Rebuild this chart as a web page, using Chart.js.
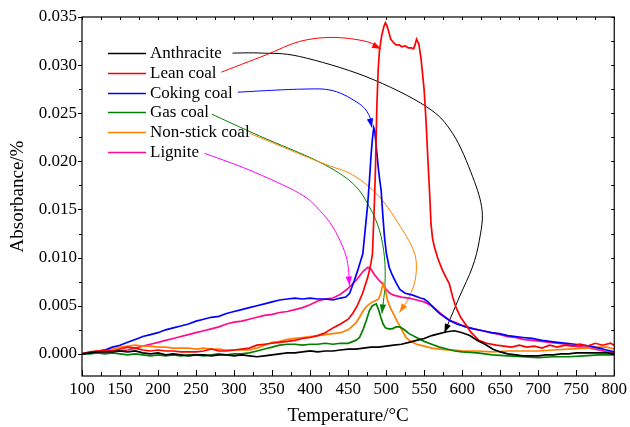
<!DOCTYPE html>
<html>
<head>
<meta charset="utf-8">
<script src="https://cdn.jsdelivr.net/npm/chart.js@4.4.1/dist/chart.umd.min.js"></script>
<style>
  html, body { margin: 0; padding: 0; background: #fff; }
  #wrap { width: 630px; height: 427px; }
</style>
</head>
<body>
<div id="wrap"><canvas id="c" width="630" height="427"></canvas></div>
<script>
// axis ticks
const X_TICKS = [100, 150, 200, 250, 300, 350, 400, 450, 500, 550, 600, 650, 700, 750, 800];
const Y_TICKS = [0, 0.005, 0.010, 0.015, 0.020, 0.025, 0.030, 0.035];

const NAMES = ["Anthracite", "Lean coal", "Coking coal", "Gas coal", "Non-stick coal", "Lignite"];
const COLORS = ["#000000", "#ff0000", "#0000ff", "#008000", "#ff8000", "#ff0a8c"];
const ARROW_COLORS = ["#000000", "#ff0000", "#0000ff", "#008000", "#ff8000", "#ff00ff"];

// [temperature °C, absorbance]
const ANTHRACITE = [[100,0],[110,0.0001],[120,0.0002],[130,0.0002],[140,0.0002],[150,0.0003],[160,0.0002],[170,0.0003],[180,0.0001],[190,0],
  [200,0.0001],[210,-0.0001],[220,0],[230,-0.0001],[240,-0.0002],[250,-0.0001],[260,-0.0001],[270,-0.0002],[280,-0.0001],[290,-0.0001],
  [300,-0.0002],[310,-0.0001],[320,-0.0002],[330,-0.0003],[340,-0.0002],[350,-0.0001],[360,0],[370,0.0001],[380,0.0001],[390,0.0002],
  [400,0.0003],[410,0.0002],[420,0.0003],[430,0.0003],[440,0.0004],[450,0.0005],[460,0.0005],[470,0.0006],[480,0.0007],[490,0.0007],
  [500,0.0008],[510,0.0009],[520,0.0010],[530,0.0012],[540,0.0014],[550,0.0016],[560,0.0019],[570,0.0021],[580,0.0023],[590,0.0024],
  [600,0.0022],[610,0.0019],[620,0.0014],[630,0.0010],[640,0.0005],[650,0.0002],[660,0],[670,-0.0001],[680,-0.0002],[690,-0.0002],
  [700,-0.0002],[710,-0.0001],[720,-0.0001],[730,0],[740,0],[750,0.0001],[760,0.0001],[770,0.0001],[780,0.0001],[790,0.0001],[800,0]];

const LEAN = [[100,0],[110,0.0002],[120,0.0003],[130,0.0004],[140,0.0003],[150,0.0005],[160,0.0007],[170,0.0006],[180,0.0004],[190,0.0003],
  [200,0.0004],[210,0.0003],[220,0.0003],[230,0.0002],[240,0.0002],[250,0.0002],[260,0.0003],[270,0.0005],[280,0.0003],[290,0.0003],
  [300,0.0004],[310,0.0005],[320,0.0006],[330,0.0009],[340,0.0010],[350,0.0011],[360,0.0012],[370,0.0013],[380,0.0014],[390,0.0016],
  [400,0.0017],[410,0.0019],[420,0.0022],[430,0.0027],[440,0.0031],[450,0.0036],[456,0.0042],[462,0.0050],[469,0.0063],[476,0.0080],
  [480,0.0094],[482,0.0104],[484.5,0.0156],[486,0.0194],[487.7,0.0255],[489.5,0.0295],[491.3,0.0316],[494,0.0330],[497,0.0340],[499,0.0344],
  [501,0.0341],[503,0.0336],[506,0.0327],[509,0.0324],[513,0.0321],[517,0.0321],[521,0.0319],[525,0.0320],[529,0.0318],[533,0.0318],
  [536,0.0317],[538,0.0321],[540,0.0327],[543,0.0322],[546,0.0306],[550,0.0274],[552.6,0.0240],[554.7,0.0205],[557,0.0170],[559,0.0135],
  [561,0.0120],[563.5,0.0111],[568,0.0099],[574,0.0087],[579,0.0079],[583,0.0073],[587.5,0.0059],[592,0.0048],[598,0.0038],[605,0.0030],
  [612,0.0022],[622,0.0014],[632,0.0011],[645,0.0009],[655,0.0008],[665,0.0007],[675,0.0009],[685,0.0007],[695,0.0008],[705,0.0006],
  [715,0.0009],[725,0.0007],[735,0.0009],[745,0.0008],[755,0.0010],[765,0.0008],[775,0.0011],[785,0.0009],[795,0.0011],[800,0.0009]];

const COKING = [[100,0],[110,0.0001],[120,0.0002],[130,0.0004],[140,0.0007],[150,0.0009],[160,0.0012],[170,0.0015],[180,0.0018],[190,0.0020],
  [200,0.0022],[210,0.0025],[220,0.0027],[230,0.0029],[240,0.0031],[250,0.0034],[260,0.0036],[270,0.0038],[280,0.0039],[290,0.0042],
  [300,0.0044],[310,0.0046],[320,0.0048],[330,0.0050],[340,0.0052],[350,0.0054],[360,0.0056],[370,0.0057],[380,0.0058],[390,0.0057],
  [400,0.0058],[410,0.0057],[420,0.0057],[430,0.0056],[440,0.0058],[447,0.0059],[452,0.0063],[458,0.0076],[462.7,0.0087],[469.3,0.0104],
  [473.7,0.0139],[475.8,0.0156],[478,0.0180],[480.3,0.0208],[482,0.0224],[483.7,0.0235],[485,0.0232],[487,0.0215],[490,0.0191],[492,0.0178],
  [493.4,0.0170],[496,0.0140],[498,0.0120],[500.4,0.0104],[504,0.0090],[508,0.0082],[513,0.0074],[518,0.0067],[525,0.0063],[535,0.0061],
  [545,0.0058],[550,0.0057],[555,0.0054],[561,0.0049],[570,0.0042],[583,0.0035],[593,0.0031],[605,0.0028],[615,0.0026],[627,0.0024],
  [638,0.0022],[649,0.0021],[660,0.0019],[670,0.0018],[680,0.0017],[692,0.0016],[705,0.0014],[715,0.0013],[725,0.0012],[737,0.0011],
  [748,0.0010],[758,0.0009],[768,0.0008],[780,0.0006],[790,0.0004],[800,0.0002]];

const GAS = [[100,0],[110,0],[120,0.0001],[130,0],[140,0.0001],[150,0],[160,-0.0001],[170,0],[180,-0.0001],[190,-0.0002],
  [200,-0.0001],[210,-0.0002],[220,-0.0001],[230,-0.0002],[240,-0.0001],[250,-0.0001],[260,-0.0002],[270,-0.0001],[280,0],[290,-0.0001],
  [300,0],[310,0],[320,0.0001],[330,0.0003],[340,0.0005],[350,0.0007],[360,0.0009],[370,0.0010],[380,0.0010],[390,0.0009],
  [400,0.0010],[410,0.0010],[420,0.0011],[430,0.0010],[440,0.0011],[450,0.0011],[460,0.0014],[465,0.0017],[470,0.0026],[474,0.0035],
  [478,0.0045],[482,0.0050],[487,0.0052],[490,0.0046],[493,0.0038],[496,0.0031],[499,0.0027],[503,0.0026],[508,0.0026],[513,0.0028],
  [518,0.0028],[524,0.0025],[530,0.0021],[540,0.0017],[550,0.0013],[560,0.0010],[570,0.0007],[580,0.0005],[590,0.0003],[600,0.0002],
  [620,0.0001],[640,-0.0001],[660,-0.0002],[680,-0.0003],[700,-0.0004],[720,-0.0003],[740,-0.0003],[760,-0.0002],[780,-0.0001],[800,-0.0001]];

const NONSTICK = [[100,0],[110,0.0001],[120,0.0003],[130,0.0004],[140,0.0005],[150,0.0007],[160,0.0008],[170,0.0009],[180,0.0008],[190,0.0008],
  [200,0.0007],[210,0.0007],[220,0.0006],[230,0.0006],[240,0.0006],[250,0.0005],[260,0.0006],[270,0.0005],[280,0.0005],[290,0.0004],
  [300,0.0004],[310,0.0004],[320,0.0004],[330,0.0006],[340,0.0009],[350,0.0012],[360,0.0013],[370,0.0015],[380,0.0016],[390,0.0017],
  [400,0.0018],[410,0.0019],[420,0.0020],[430,0.0021],[440,0.0022],[450,0.0025],[460,0.0032],[465,0.0038],[470,0.0045],[475,0.0050],
  [480,0.0053],[485,0.0055],[490,0.0057],[493,0.0063],[496,0.0073],[499,0.0066],[502,0.0055],[506,0.0047],[510,0.0041],[515,0.0033],
  [520,0.0026],[526,0.0017],[532,0.0013],[540,0.0010],[550,0.0008],[560,0.0006],[570,0.0005],[580,0.0004],[590,0.0004],[600,0.0003],
  [620,0.0003],[640,0.0002],[660,0.0003],[680,0.0003],[700,0.0003],[720,0.0004],[740,0.0005],[760,0.0006],[780,0.0007],[790,0.0007],[800,0.0005]];

const LIGNITE = [[100,0],[110,0.0001],[120,0.0002],[130,0.0002],[140,0.0003],[150,0.0003],[160,0.0004],[170,0.0006],[180,0.0008],[190,0.0010],
  [200,0.0012],[210,0.0014],[220,0.0016],[230,0.0018],[240,0.0020],[250,0.0022],[260,0.0024],[270,0.0026],[280,0.0028],[290,0.0031],
  [300,0.0033],[310,0.0034],[320,0.0036],[330,0.0038],[340,0.0040],[350,0.0041],[360,0.0043],[370,0.0044],[380,0.0046],[390,0.0048],
  [400,0.0051],[410,0.0055],[420,0.0057],[430,0.0058],[440,0.0062],[450,0.0068],[460,0.0076],[465,0.0081],[470,0.0086],[476,0.0090],
  [480,0.0088],[485,0.0082],[490,0.0077],[495,0.0073],[500,0.0067],[505,0.0063],[510,0.0061],[520,0.0059],[530,0.0058],[540,0.0056],
  [550,0.0054],[560,0.0050],[570,0.0043],[583,0.0035],[593,0.0032],[605,0.0028],[615,0.0026],[627,0.0024],[638,0.0022],[650,0.0020],
  [660,0.0018],[670,0.0017],[680,0.0015],[692,0.0014],[705,0.0013],[715,0.0012],[725,0.0011],[737,0.0010],[748,0.0008],[758,0.0007],
  [768,0.0006],[780,0.0004],[790,0.0002],[800,0.0001]];

const SERIES = [ANTHRACITE, LEAN, COKING, GAS, NONSTICK, LIGNITE];

// callout arrows, in data units, from legend label to its curve
const ARROWS = [
  [[298,0.03125],[336,0.03125],[386,0.0309],[473.7,0.0288],[552.6,0.0257],[587.5,0.0229],[613.8,0.0184],[626.2,0.0149],[622.6,0.0118],[613.4,0.0090],[596.3,0.0059],[576.6,0.0022]],
  [[283.2,0.02927],[342.3,0.03107],[386.1,0.03246],[429.8,0.03288],[473.7,0.03246],[493.2,0.03167]],
  [[305,0.02719],[386.1,0.0275],[429.8,0.02735],[464.9,0.02597],[478,0.02472],[481.3,0.02352]],
  [[270.8,0.0249],[333.5,0.02264],[412.3,0.01993],[456.1,0.01771],[478,0.01527],[491.2,0.01284],[497.8,0.01003],[498.4,0.00711],[494.5,0.0042]],
  [[320.4,0.02292],[412.3,0.01993],[456.1,0.01858],[491.2,0.01631],[521.8,0.01284],[535.9,0.01076],[539.8,0.0092],[537.2,0.00732],[528,0.00555],[517.5,0.0043]],
  [[261.2,0.02083],[320.4,0.01909],[386.1,0.01667],[412.3,0.01493],[429.8,0.01319],[443,0.01111],[449.5,0.00938],[451.8,0.00711]]
];

const SERIF = "'Liberation Serif', 'Times New Roman', serif";

function smoothPath(ctx, pts) {
  ctx.beginPath();
  ctx.moveTo(pts[0][0], pts[0][1]);
  for (let i = 0; i < pts.length - 1; i++) {
    const p0 = pts[i - 1] || pts[i], p1 = pts[i], p2 = pts[i + 1], p3 = pts[i + 2] || p2;
    ctx.bezierCurveTo(
      p1[0] + (p2[0] - p0[0]) / 6, p1[1] + (p2[1] - p0[1]) / 6,
      p2[0] - (p3[0] - p1[0]) / 6, p2[1] - (p3[1] - p1[1]) / 6,
      p2[0], p2[1]);
  }
  ctx.stroke();
}

const arrowPlugin = {
  id: "callouts",
  beforeDatasetsDraw(chart) {
    const { ctx, scales: { x, y } } = chart;
    ctx.save();
    ctx.lineWidth = 1;
    ARROWS.forEach((path, k) => {
      const pts = path.map(p => [x.getPixelForValue(p[0]), y.getPixelForValue(p[1])]);
      ctx.strokeStyle = ctx.fillStyle = ARROW_COLORS[k];
      smoothPath(ctx, pts);
      const tip = pts[pts.length - 1], prev = pts[pts.length - 2];
      const ang = Math.atan2(tip[1] - prev[1], tip[0] - prev[0]);
      const len = 9, hw = 3.2;
      ctx.beginPath();
      ctx.moveTo(tip[0], tip[1]);
      ctx.lineTo(tip[0] - len * Math.cos(ang) + hw * Math.sin(ang), tip[1] - len * Math.sin(ang) - hw * Math.cos(ang));
      ctx.lineTo(tip[0] - len * Math.cos(ang) - hw * Math.sin(ang), tip[1] - len * Math.sin(ang) + hw * Math.cos(ang));
      ctx.closePath();
      ctx.fill();
    });
    ctx.restore();
  }
};

const framePlugin = {
  id: "frame",
  afterDraw(chart) {
    const { ctx, chartArea: a, scales: { x, y } } = chart;
    ctx.save();
    ctx.strokeStyle = "#000";
    ctx.lineWidth = 1.2;
    ctx.strokeRect(a.left, a.top, a.right - a.left, a.bottom - a.top);
    ctx.lineWidth = 1;
    ctx.beginPath();
    const xt = (v, lb, lt) => {
      const px = Math.round(x.getPixelForValue(v)) + 0.5;
      ctx.moveTo(px, a.bottom); ctx.lineTo(px, a.bottom - lb);
      ctx.moveTo(px, a.top); ctx.lineTo(px, a.top + lt);
    };
    X_TICKS.forEach((v, i) => {
      xt(v, 6, 3);
      if (i < X_TICKS.length - 1) xt((v + X_TICKS[i + 1]) / 2, 4, 3);
    });
    const yt = (v, ll, lr) => {
      const py = Math.round(y.getPixelForValue(v)) + 0.5;
      ctx.moveTo(a.left, py); ctx.lineTo(a.left - ll, py);
      ctx.moveTo(a.right, py); ctx.lineTo(a.right - lr, py);
    };
    Y_TICKS.forEach((v, i) => {
      yt(v, 4, 3);
      if (i < Y_TICKS.length - 1) yt((v + Y_TICKS[i + 1]) / 2, 3, 3);
    });
    ctx.stroke();

    // legend
    ctx.font = "17px " + SERIF;
    ctx.textBaseline = "middle";
    ctx.fillStyle = "#000";
    NAMES.forEach((name, i) => {
      const ly = Math.round(a.top + 36 + i * 19.8) + 0.5;
      ctx.strokeStyle = COLORS[i];
      ctx.lineWidth = 1.6;
      ctx.beginPath();
      ctx.moveTo(a.left + 26, ly); ctx.lineTo(a.left + 64, ly);
      ctx.stroke();
      ctx.fillText(name, a.left + 68, ly);
    });
    ctx.restore();
  }
};

new Chart(document.getElementById("c"), {
  type: "line",
  data: {
    datasets: SERIES.map((s, i) => ({
      label: NAMES[i],
      data: s.map(p => ({ x: p[0], y: p[1] })),
      borderColor: COLORS[i],
      borderWidth: 1.7,
      pointRadius: 0,
      tension: 0,
      fill: false
    }))
  },
  options: {
    responsive: false,
    animation: false,
    devicePixelRatio: 1,
    layout: { padding: { left: 0, right: 15, top: 17, bottom: 0 } },
    plugins: { legend: { display: false }, tooltip: { enabled: false } },
    scales: {
      x: {
        type: "linear",
        min: 100, max: 800,
        afterBuildTicks: s => { s.ticks = X_TICKS.map(v => ({ value: v })); },
        afterFit: s => { s.height = 51; },
        grid: { display: false, drawTicks: false },
        border: { display: false },
        ticks: { color: "#000", padding: 3, maxRotation: 0, font: { family: SERIF, size: 17 } },
        title: { display: true, text: "Temperature/°C", color: "#000", padding: { top: 0, bottom: 0 }, font: { family: SERIF, size: 19 } }
      },
      y: {
        min: -0.0023, max: 0.035,
        afterBuildTicks: s => { s.ticks = Y_TICKS.map(v => ({ value: v })); },
        afterFit: s => { s.width = 82; },
        grid: { display: false, drawTicks: false },
        border: { display: false },
        ticks: { color: "#000", padding: 5, callback: v => v.toFixed(3), font: { family: SERIF, size: 17 } },
        title: { display: true, text: "Absorbance/%", color: "#000", padding: { top: 7, bottom: 0 }, font: { family: SERIF, size: 19 } }
      }
    }
  },
  plugins: [arrowPlugin, framePlugin]
});
</script>
</body>
</html>
